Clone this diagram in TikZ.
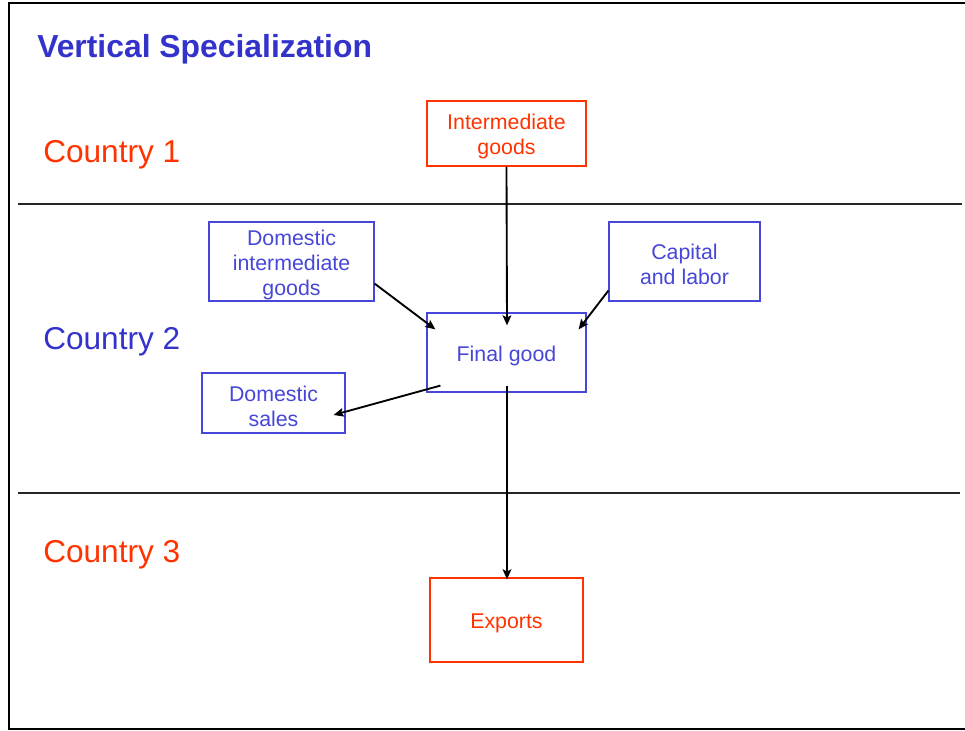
\documentclass[tikz,border=0pt]{standalone}
\usepackage{fontspec}
\setmainfont{Liberation Sans}
\usepackage{tikz}
\usetikzlibrary{calc,arrows.meta}
\definecolor{headblue}{HTML}{3333CC}
\definecolor{boxblue}{HTML}{4646D8}
\definecolor{countryred}{HTML}{FF3300}
\newcommand{\topstrut}{\rule{0pt}{16.5pt}}
\tikzset{
  >={Stealth[length=7.5pt,width=6.5pt,inset=1.5pt]},
  country/.style={anchor=west, inner sep=0pt, font=\fontsize{23.7}{28}\selectfont},
  goodsbox/.style={rectangle, draw, line width=0.9pt, inner sep=0pt, align=center,
                   font=\fontsize{16}{18.75}\selectfont},
  bluebox/.style={goodsbox, draw=boxblue, text=boxblue},
  redbox/.style={goodsbox, draw=countryred, text=countryred},
  line/.style={draw, line width=1.4pt, black, ->},
  divider/.style={draw, line width=1pt, black!85}
}
\begin{document}
\begin{tikzpicture}[x=0.75pt, y=-0.75pt]
  \useasboundingbox (0,0) rectangle (965,731);

  % Frame and dividers
  \draw[line width=1.6pt] (975,3) -- (9,3) -- (9,729) -- (975,729);
  \path[divider] (18,204) -- (962,204);
  \path[divider] (18,493) -- (960,493);

  % Title and country labels
  \node[anchor=west, inner sep=0pt, text=headblue, font=\fontsize{23.9}{28}\selectfont\bfseries] (title) at (37,49) {Vertical Specialization};
  \node[country, text=countryred] (c1) at (43,154.5) {Country 1};
  \node[country, text=headblue] (c2) at (43,342) {Country 2};
  \node[country, text=countryred] (c3) at (43,554.5) {Country 3};

  % Draw diagram elements
  \node[redbox, minimum width=119.25pt, minimum height=48.75pt] (ig) at (506.5,133.5) {\topstrut Intermediate\\goods};
  \node[bluebox, minimum width=123.75pt, minimum height=59.25pt] (dig) at (291.5,261.5) {\topstrut Domestic\\intermediate\\goods};
  \node[bluebox, minimum width=113.25pt, minimum height=59.25pt] (cl) at (684.5,261.5) {\topstrut Capital\\and labor};
  \node[bluebox, minimum width=119.25pt, minimum height=59.25pt] (fg) at (506.5,352.5) {\topstrut Final good};
  \node[bluebox, minimum width=107.25pt, minimum height=45pt] (ds) at (273.5,403) {\topstrut Domestic\\sales};
  \node[redbox, minimum width=114.75pt, minimum height=63pt] (ex) at (506.5,620) {\topstrut Exports};

  % Draw arrows between elements
  \path [line] (ig.south) -- ($(fg.north)+(0.5,13)$);
  \path [line] ($(dig.south east)+(0,-18)$) -- ($(fg.north west)+(9,17)$);
  \path [line] ($(cl.south west)+(0,-11)$) -- ($(fg.north east)+(-8,17)$);
  \path [line] ($(fg.south west)+(14,-7)$) -- ($(ds.east)+(-12,12)$);
  \path [line] ($(fg.south)+(0.5,-7)$) -- ($(ex.north)+(0.5,2)$);
\end{tikzpicture}
\end{document}
